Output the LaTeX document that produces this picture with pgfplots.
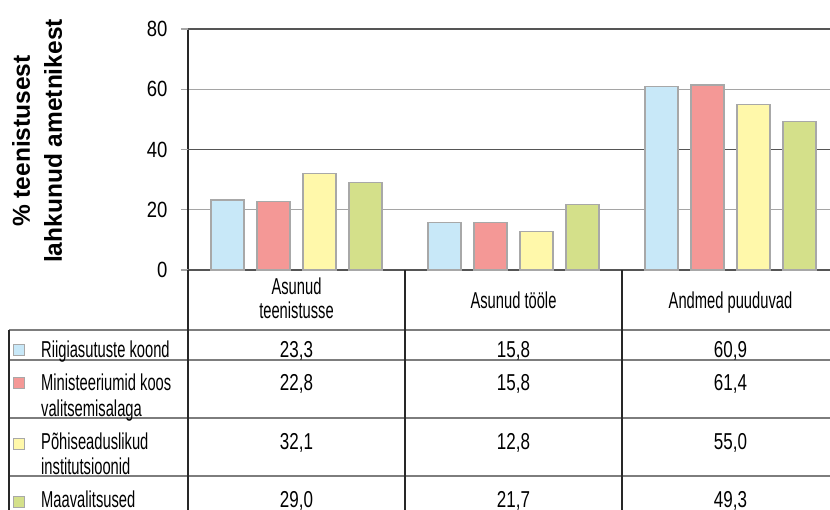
\documentclass[border=0pt]{standalone}
\usepackage{pgfplots}
\pgfplotsset{compat=1.18}
\usepackage{pgfplotstable}
\usepackage{fontspec}
\setmainfont{Liberation Sans}[FakeStretch=0.64]
\newfontfamily\numfont{Liberation Sans}[FakeStretch=0.74]
\newfontfamily\tickfont{Liberation Sans}[FakeStretch=0.84]
\newfontfamily\labelfont{Liberation Sans}

\definecolor{cBlue}{RGB}{200,232,248}
\definecolor{cRed}{RGB}{244,152,150}
\definecolor{cYellow}{RGB}{255,248,170}
\definecolor{cGreen}{RGB}{212,224,138}
\definecolor{barEdge}{RGB}{168,168,168}
\definecolor{gridDark}{RGB}{85,85,85}
\definecolor{gridLight}{RGB}{165,165,165}
\definecolor{ruleGrey}{RGB}{125,125,125}
\definecolor{ruleDark}{RGB}{40,40,40}

% share of officials leaving the service, by destination (%)
\pgfplotstableread{
x    riik  min   pohi  maa
0.5  23.3  22.8  32.1  29.0
1.5  15.8  15.8  12.8  21.7
2.5  60.9  61.4  55.0  49.3
}\lahkunud

% print one cell of the data table with a decimal comma
\newcommand\val[2]{%
  \pgfplotstablegetelem{#1}{#2}\of\lahkunud
  \pgfmathprintnumber[fixed,fixed zerofill,precision=1,use comma,assume math mode=true]{\pgfplotsretval}}

\newcommand\tabfont{\fontsize{23}{25}\selectfont}

\begin{document}
\begin{tikzpicture}
\clip (-188pt,-239pt) rectangle (642pt,270pt);
\begin{axis}[
  at={(0pt,0pt)}, anchor=origin,
  scale only axis, width=651pt, height=241pt,
  xmin=0, xmax=3, ymin=0, ymax=80,
  clip=false,
  axis x line*=bottom, axis y line*=left,
  axis line style={-, draw=ruleDark, line width=1.6pt},
  xtick=\empty,
  ytick={0,20,40,60,80},
  ymajorgrids,
  major grid style={draw=gridLight, line width=1.4pt},
  tick align=outside, major tick length=7pt,
  ytick style={draw=gridLight, line width=1.4pt},
  extra y ticks={0,40,80}, extra y tick labels={},
  extra y tick style={major grid style={draw=gridDark, line width=1.4pt},
                      tick style={draw=gridDark, line width=1.4pt}},
  yticklabel style={font=\tickfont\fontsize{22}{22}\selectfont, text=black, xshift=-10pt},
  /pgf/number format/assume math mode=true,
  every axis plot/.append style={ybar, bar width=0.152, draw=barEdge, line width=1.5pt},
]
\addplot[fill=cBlue,   bar shift=-0.318] table[x=x,y=riik]{\lahkunud};
\addplot[fill=cRed,    bar shift=-0.106] table[x=x,y=min]{\lahkunud};
\addplot[fill=cYellow, bar shift=0.106]  table[x=x,y=pohi]{\lahkunud};
\addplot[fill=cGreen,  bar shift=0.318]  table[x=x,y=maa]{\lahkunud};
\end{axis}

% data table under the chart (pixel-style coordinates, y downwards)
\begin{scope}[x=1pt,y=-1pt,shift={(-188,-270)}]
  \foreach \yy in {330,360,418,476}
    \draw[ruleGrey, line width=1.3pt] (9,\yy) -- (845,\yy);
  \draw[ruleDark, line width=1.2pt] (9,330) -- (9,520);
  \foreach \xx in {188,405,622}
    \draw[ruleDark, line width=1.6pt] (\xx,270) -- (\xx,520);

  % axis title
  \node[rotate=90, align=center, font=\labelfont\bfseries\fontsize{24.5}{32}\selectfont]
    at (37,141) {\% teenistusest\\lahkunud ametnikest};

  % column headers
  \begin{scope}[every node/.style={font=\tabfont, inner sep=0pt, anchor=base}]
    \node at (296.5,294) {Asunud};
    \node at (296.5,318.5) {teenistusse};
    \node at (513.5,308) {Asunud tööle};
    \node at (730.5,308) {Andmed puuduvad};
  \end{scope}

  % row labels with colour keys
  \begin{scope}[every node/.style={font=\tabfont, inner sep=0pt, anchor=base west}]
    \node at (41,357) {Riigiasutuste koond};
    \node at (41,390) {Ministeeriumid koos};
    \node at (41,416) {valitsemisalaga};
    \node at (41,449) {Põhiseaduslikud};
    \node at (41,474) {institutsioonid};
    \node at (41,507) {Maavalitsused};
  \end{scope}
  \begin{scope}[every node/.style={draw=barEdge, line width=0.9pt, minimum size=11pt, inner sep=0pt}]
    \node[fill=cBlue]   at (19,350) {};
    \node[fill=cRed]    at (19,383) {};
    \node[fill=cYellow] at (19,444) {};
    \node[fill=cGreen]  at (19,502) {};
  \end{scope}

  % values
  \begin{scope}[every node/.style={font=\numfont\fontsize{23}{25}\selectfont, inner sep=0pt, anchor=base}]
    \node at (296.5,357) {\val{0}{riik}};
    \node at (513.5,357) {\val{1}{riik}};
    \node at (730.5,357) {\val{2}{riik}};
    \node at (296.5,390) {\val{0}{min}};
    \node at (513.5,390) {\val{1}{min}};
    \node at (730.5,390) {\val{2}{min}};
    \node at (296.5,449) {\val{0}{pohi}};
    \node at (513.5,449) {\val{1}{pohi}};
    \node at (730.5,449) {\val{2}{pohi}};
    \node at (296.5,507) {\val{0}{maa}};
    \node at (513.5,507) {\val{1}{maa}};
    \node at (730.5,507) {\val{2}{maa}};
  \end{scope}
\end{scope}
\end{tikzpicture}
\end{document}
